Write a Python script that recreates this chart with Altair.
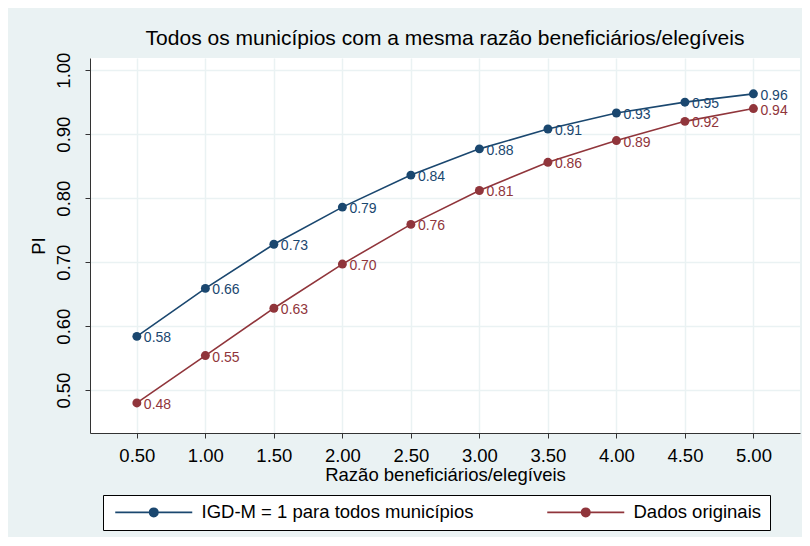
import altair as alt
import pandas as pd

x_vals = [0.5, 1.0, 1.5, 2.0, 2.5, 3.0, 3.5, 4.0, 4.5, 5.0]
igd_vals = [0.584, 0.659, 0.728, 0.786, 0.836, 0.877, 0.908, 0.933, 0.950, 0.963]
orig_vals = [0.480, 0.554, 0.628, 0.697, 0.759, 0.812, 0.856, 0.890, 0.920, 0.940]
series_names = ["IGD-M = 1 para todos municípios", "Dados originais"]
series_colors = ["#1a476f", "#90353b"]
x_ticks = [0.5, 1.0, 1.5, 2.0, 2.5, 3.0, 3.5, 4.0, 4.5, 5.0]
y_ticks = [0.5, 0.6, 0.7, 0.8, 0.9, 1.0]

rows = []
for name, vals in zip(series_names, [igd_vals, orig_vals]):
    for xv, yv in zip(x_vals, vals):
        rows.append({"x": xv, "y": yv, "serie": name})
df = pd.DataFrame(rows)

FONT = "Liberation Sans"
BG = "#eaf2f3"

color_scale = alt.Scale(domain=series_names, range=series_colors)


def ring(cx, r):
    return (f"M{cx - r},0A{r},{r} 0 1,1 {cx + r},0A{r},{r} 0 1,1 {cx - r},0")


# legend key: a line with a dot in the middle (unit = sqrt(size)/2 px)
sym = "M-1,0L14.4,0" + "".join(ring(6.7, r) for r in (0.84, 0.6, 0.36, 0.12))

x_enc = alt.X("x:Q",
              scale=alt.Scale(domain=[0.158, 5.34], nice=False, zero=False),
              axis=alt.Axis(values=x_ticks, format=".2f", title="Razão beneficiários/elegíveis",
                            titleFontSize=18.5, titleFont=FONT, titleFontWeight="normal",
                            titleColor="black", titlePadding=1,
                            labelFontSize=18.5, labelFont=FONT, labelColor="black",
                            labelPadding=8, tickSize=5, tickColor="#333333",
                            domainColor="#333333", gridColor=BG, gridWidth=1.5))
y_enc = alt.Y("y:Q",
              scale=alt.Scale(domain=[0.433, 1.019], nice=False, zero=False),
              axis=alt.Axis(values=y_ticks, format=".2f", title="PI",
                            titleFontSize=18.5, titleFont=FONT, titleFontWeight="normal",
                            titleColor="black", titlePadding=6,
                            labelFontSize=18.5, labelFont=FONT, labelColor="black",
                            labelAngle=270, labelAlign="center", labelBaseline="bottom",
                            labelPadding=12, tickSize=5, tickColor="#333333",
                            domainColor="#333333", gridColor=BG, gridWidth=1.5))

base = alt.Chart(df)

lines = base.mark_line(strokeWidth=1.6).encode(
    x=x_enc, y=y_enc,
    color=alt.Color("serie:N", scale=color_scale, sort=series_names,
                    legend=alt.Legend(title=None, orient="none", legendX=13, legendY=437,
                                      direction="horizontal", columns=2,
                                      strokeColor="black", fillColor="white",
                                      padding=8, symbolType=sym, symbolSize=100,
                                      symbolStrokeWidth=1.6, labelFontSize=18.5,
                                      labelFont=FONT, labelColor="black", labelLimit=600,
                                      labelOffset=72, columnPadding=69)),
)
points = base.mark_point(filled=True, size=80, opacity=1).encode(
    x="x:Q", y="y:Q",
    color=alt.Color("serie:N", scale=color_scale, legend=None),
)
labels = base.mark_text(align="left", baseline="middle", dx=7, dy=2,
                        fontSize=14, font=FONT).encode(
    x="x:Q", y="y:Q",
    text=alt.Text("y:Q", format=".2f"),
    color=alt.Color("serie:N", scale=color_scale, legend=None),
)

chart = alt.layer(lines, points, labels).properties(
    width=710, height=375,
    title=alt.TitleParams("Todos os municípios com a mesma razão beneficiários/elegíveis",
                          fontSize=21, font=FONT, fontWeight="normal", color="black",
                          anchor="middle", offset=3),
    background=BG,
    padding={"left": 82, "top": 50, "right": 2, "bottom": 104},
    autosize=alt.AutoSizeParams(type="none"),
).configure_view(fill="white", stroke=None)

chart.save("out.html", embed_options={"renderer": "svg", "actions": False})
